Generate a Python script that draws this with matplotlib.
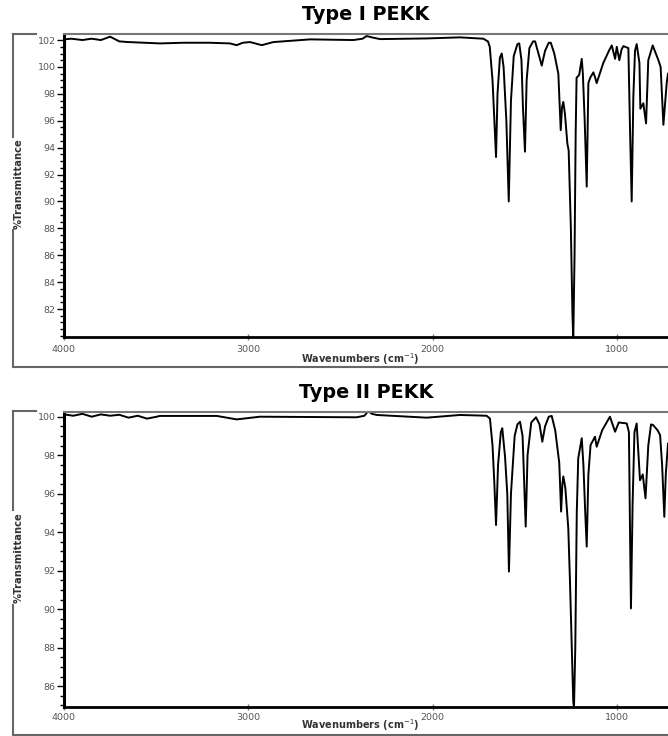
import matplotlib
matplotlib.use("Agg")
import matplotlib.pyplot as plt
from matplotlib.lines import Line2D
from matplotlib.ticker import MultipleLocator

# spectra (wavenumber, %T)
wn_type1 = [4000, 3960, 3900, 3850, 3800, 3750, 3700, 3650, 3480, 3350, 3210, 3100,
            3063, 3030, 2990, 2927, 2864, 2665, 2430, 2380, 2358, 2330, 2285, 2032,
            1851, 1725, 1700, 1690, 1675, 1665, 1656, 1648, 1635, 1625, 1615, 1600,
            1587, 1575, 1560, 1540, 1530, 1518, 1510, 1499, 1490, 1475, 1455, 1444,
            1430, 1408, 1390, 1370, 1359, 1340, 1318, 1305, 1298, 1291, 1282, 1269,
            1262, 1250, 1242, 1237, 1230, 1224, 1219, 1205, 1191, 1185, 1175, 1164,
            1155, 1145, 1128, 1118, 1110, 1074, 1040, 1028, 1010, 1001, 987, 975,
            965, 938, 929, 920, 911, 902, 893, 878, 873, 857, 842, 830, 806, 775,
            763, 748, 730, 723]
t_type1 = [102.05, 102.1, 102.0, 102.1, 102.0, 102.25, 101.9, 101.85, 101.75, 101.8, 101.8, 101.75,
           101.62, 101.8, 101.85, 101.62, 101.85, 102.05, 102.0, 102.1, 102.3, 102.2, 102.07, 102.12,
           102.2, 102.1, 101.9, 101.5, 99.0, 96.0, 93.3, 98.0, 100.7, 101.0, 100.0, 96.0,
           90.0, 97.5, 100.8, 101.7, 101.75, 100.5, 97.0, 93.7, 99.0, 101.4, 101.9, 101.9,
           101.2, 100.1, 101.2, 101.8, 101.8, 101.0, 99.5, 95.3, 97.0, 97.4, 96.5, 94.3,
           93.8, 88.0, 82.0, 79.6, 86.0, 95.0, 99.2, 99.4, 100.6, 99.5, 96.0, 91.1,
           98.8, 99.2, 99.6, 99.2, 98.8, 100.3, 101.3, 101.6, 100.6, 101.5, 100.5, 101.3,
           101.55, 101.4, 95.3, 90.0, 97.8, 101.2, 101.7, 100.3, 96.9, 97.3, 95.8, 100.5, 101.6, 100.5,
           100.0, 95.7, 98.8, 99.5]

wn_type2 = [4000, 3950, 3900, 3850, 3800, 3750, 3700, 3650, 3600, 3550, 3497, 3480,
            3171, 3063, 2937, 2412, 2370, 2349, 2330, 2303, 2032, 1851, 1707, 1689,
            1675, 1665, 1656, 1645, 1630, 1622, 1607, 1595, 1586, 1575, 1555, 1540,
            1526, 1512, 1503, 1495, 1485, 1465, 1439, 1420, 1405, 1390, 1370, 1354,
            1335, 1313, 1303, 1296, 1291, 1280, 1264, 1255, 1245, 1237, 1233, 1226,
            1218, 1210, 1191, 1182, 1172, 1164, 1155, 1143, 1119, 1110, 1080, 1038,
            1010, 990, 947, 935, 929, 924, 915, 905, 893, 875, 860, 845, 830, 815, 804,
            780, 766, 755, 743, 735, 723]
t_type2 = [100.12, 100.05, 100.15, 100.0, 100.12, 100.05, 100.1, 99.95, 100.05, 99.9, 100.0, 100.04,
           100.04, 99.86, 100.0, 99.97, 100.05, 100.3, 100.15, 100.09, 99.95, 100.09, 100.05, 99.9,
           98.5, 96.5, 94.37, 97.5, 99.2, 99.4, 97.9, 96.0, 91.95, 96.0, 99.0, 99.6,
           99.74, 99.0, 96.5, 94.29, 98.0, 99.7, 99.97, 99.6, 98.7, 99.5, 100.0, 100.04,
           99.3, 97.6, 95.07, 96.5, 96.9, 96.3, 94.2, 91.5, 88.0, 85.2, 84.9, 88.0,
           95.0, 97.84, 98.88, 97.5, 95.0, 93.25, 97.0, 98.53, 98.96, 98.44, 99.3, 100.0,
           99.22, 99.7, 99.65, 99.2, 94.0, 90.04, 95.5, 99.2, 99.65, 96.7, 97.0, 95.76, 98.5, 99.6, 99.57,
           99.3, 99.05, 97.5, 94.8, 97.0, 98.6]

titles = ["Type I PEKK", "Type II PEKK"]
ylims = [(79.92, 102.45), (84.9, 100.26)]
yticks = [list(range(82, 103, 2)), list(range(86, 101, 2))]
xticks = [4000, 3000, 2000, 1000]

W, H = 668, 736
fig = plt.figure(figsize=(W / 100, H / 100), dpi=100)

def fx(px):
    return px / W

def fy(py):
    return 1 - py / H

# pixel geometry of each panel: axes top/bottom, outer frame top/bottom, label gap, title y
panels = [
    dict(ax_top=34, ax_bot=337, fr_top=34, fr_bot=367, gap=(137, 230), title_y=15, xlab_y=359, tlab_y=349),
    dict(ax_top=411.7, ax_bot=707.3, fr_top=410.7, fr_bot=734.5, gap=(510, 605), title_y=392, xlab_y=725, tlab_y=718),
]
data = [(wn_type1, t_type1), (wn_type2, t_type2)]
gray = "#555555"
ax_left = 64

for i, p in enumerate(panels):
    ax = fig.add_axes([fx(ax_left), fy(p["ax_bot"]), 1 - fx(ax_left),
                       (p["ax_bot"] - p["ax_top"]) / H])
    wn, t = data[i]
    ax.plot(wn, t, color="black", lw=1.4, solid_joinstyle="round")
    ax.set_xlim(4000, 723)
    ax.set_ylim(*ylims[i])

    # spines
    ax.spines["right"].set_visible(False)
    ax.spines["top"].set_color("#777777")
    ax.spines["top"].set_linewidth(1.5)
    ax.spines["left"].set_linewidth(2.2)
    ax.spines["bottom"].set_linewidth(2.0)

    ax.set_yticks(yticks[i])
    ax.yaxis.set_minor_locator(MultipleLocator(0.5))
    ax.tick_params(axis="y", which="major", direction="out", length=5, width=1,
                   labelsize=6.8, labelcolor=gray, pad=1)
    ax.tick_params(axis="y", which="minor", direction="out", length=3, width=1)
    ax.set_xticks(xticks)
    ax.set_xticklabels([])
    ax.tick_params(axis="x", direction="inout", length=4, width=1, color="#777777")

    for xv in xticks:
        fig.text(fx(ax_left + (4000 - xv) * 0.1843), fy(p["tlab_y"]), str(xv),
                 ha="center", va="center", fontsize=6.8, color=gray)

    fig.text(fx(366), fy(p["title_y"]), titles[i], ha="center", va="center",
             fontsize=13.8, fontweight="bold")
    fig.text(fx(360), fy(p["xlab_y"]), r"Wavenumbers (cm$^{-1}$)", ha="center", va="center",
             fontsize=7, fontweight="bold", color="#333333")
    fig.text(fx(18.5), fy((p["gap"][0] + p["gap"][1]) / 2), "%Transmittance", rotation=90,
             ha="center", va="center", fontsize=7.2, fontweight="bold", color="#333333")

    # outer bracket frame
    fr = dict(color="#666666", lw=1.5, transform=fig.transFigure)
    fig.add_artist(Line2D([fx(13), fx(36)], [fy(p["fr_top"]), fy(p["fr_top"])], **fr))
    fig.add_artist(Line2D([fx(13), fx(13)], [fy(p["fr_top"]), fy(p["gap"][0])], **fr))
    fig.add_artist(Line2D([fx(13), fx(13)], [fy(p["gap"][1]), fy(p["fr_bot"])], **fr))
    fig.add_artist(Line2D([fx(13), 1], [fy(p["fr_bot"]), fy(p["fr_bot"])], **fr))

fig.savefig("out.png", dpi=100)
